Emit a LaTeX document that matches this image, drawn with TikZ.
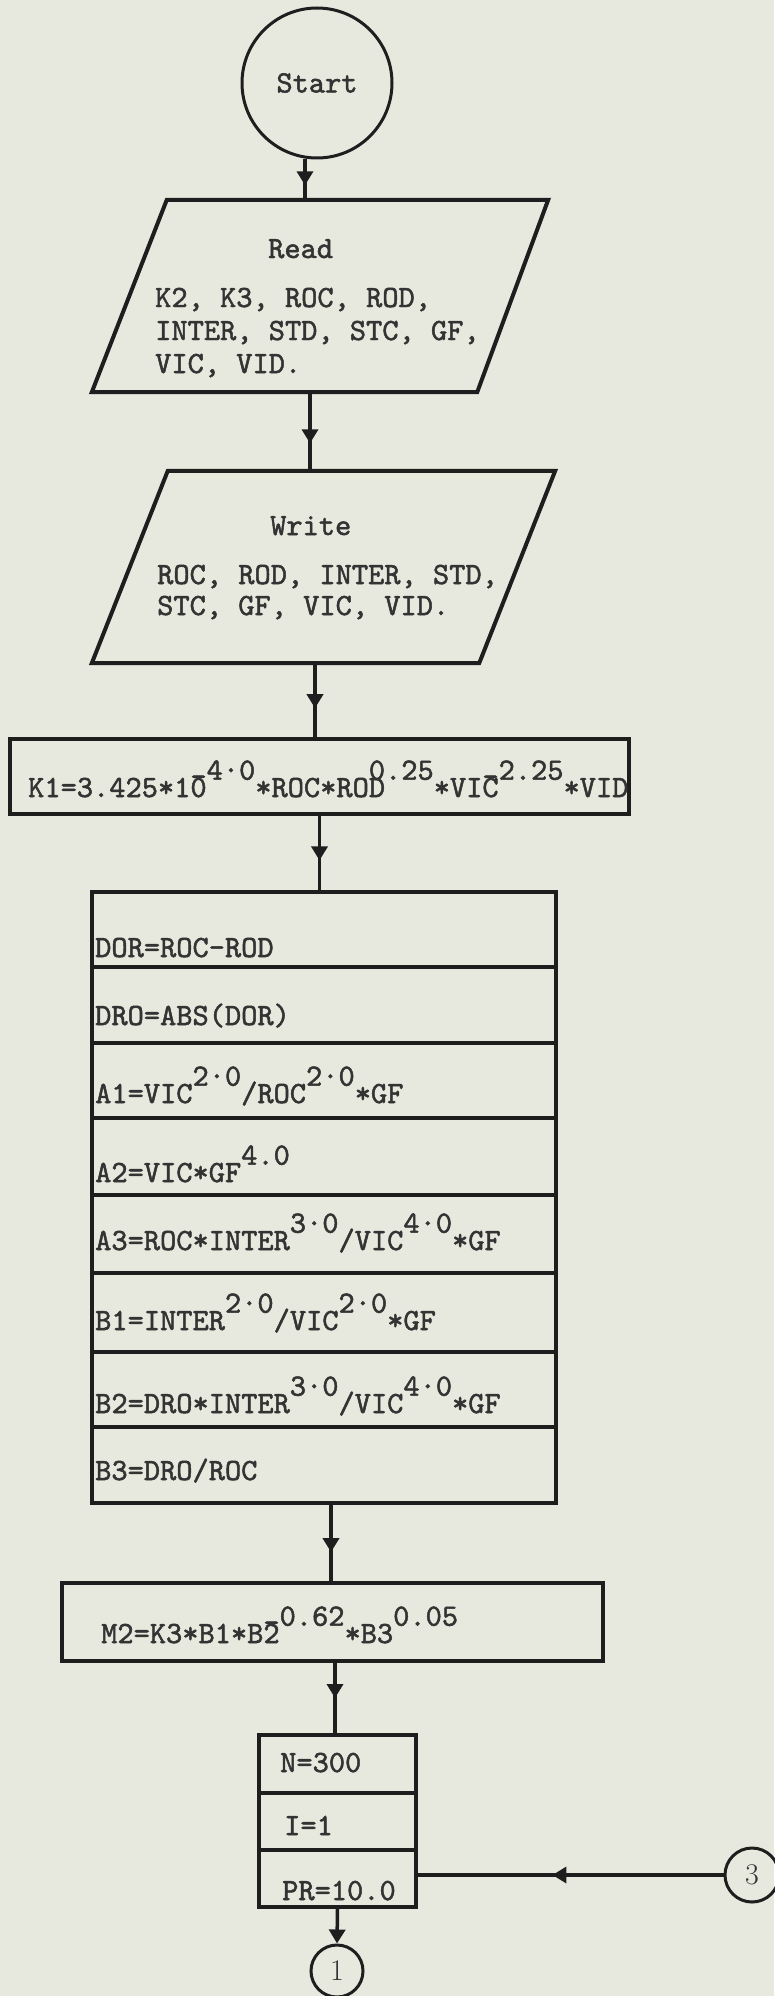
\documentclass[tikz,border=0pt]{standalone}
\usepackage{fontspec}
\usetikzlibrary{arrows.meta,decorations.markings}
\definecolor{paper}{HTML}{E7E9DE}
\definecolor{ink}{HTML}{1E1E1E}
\definecolor{typeink}{HTML}{333333}
% typewriter face used for every statement, slightly inked up
\newfontfamily\typeface{lmmono10-regular}[Extension=.otf, FakeBold=1.6]
\newcommand\typew{\typeface\fontsize{30.9}{33}\selectfont}
% raised exponent, typed on the same line
\newcommand\sus[1]{\raisebox{0.56em}{#1}}
% minus sign struck over the previous character
\newcommand\ovm{\llap{\raisebox{0.35em}{-}}}
% one typewriter backspace
\newcommand\bsp{\kern-0.525em}
\newcommand\pc{\textperiodcentered}
\begin{document}
\begin{tikzpicture}[x=1pt,y=-1pt,
  box/.style={draw=ink, line width=4pt, rectangle, inner sep=0pt},
  ghost/.style={rectangle, inner sep=0pt},
  term/.style={draw=ink, line width=3pt, circle, inner sep=0pt},
  txt/.style={anchor=base west, inner sep=0pt, text=typeink, font=\typew,
    text height=0.62em, text depth=0.12em},
  flow/.style={draw=ink, line width=3.5pt},
  headat/.style={postaction={decorate}, decoration={markings,
      mark=at position #1 with {\arrow{Triangle[width=16pt,length=14pt]}}}},
]
\fill[paper] (0,0) rectangle (774,1996);
\useasboundingbox (0,0) rectangle (774,1996);

% ---- start terminal
\node[term, minimum size=150pt, text=typeink, font=\typew] (start) at (317,83) {Start};

% ---- read input
\node[ghost, minimum width=456pt, minimum height=192pt] (read) at (320,296) {};
\draw[ink, line width=4pt] ([xshift=75pt]read.north west) -- (read.north east)
  -- ([xshift=-71pt]read.south east) -- (read.south west) -- cycle;
\node[txt] (readhd) at (268,258) {Read};
\node[txt] (readl1) at (155,307) {K2, K3, ROC, ROD,};
\node[txt] (readl2) at (155,340) {INTER, STD, STC, GF,};
\node[txt] (readl3) at (155,373) {VIC, VID.};

% ---- write output
\node[ghost, minimum width=463pt, minimum height=192pt] (write) at (323.5,567) {};
\draw[ink, line width=4pt] ([xshift=76pt]write.north west) -- (write.north east)
  -- ([xshift=-76pt]write.south east) -- (write.south west) -- cycle;
\node[txt] (writehd) at (270,535) {Write};
\node[txt] (writel1) at (157,584) {ROC, ROD, INTER, STD,};
\node[txt] (writel2) at (157,615) {STC, GF, VIC, VID.};

% ---- K1
\node[box, minimum width=619pt, minimum height=75pt] (k1) at (319.5,776.5) {};
\node[txt] (k1t) at (28,797) {K1=3.425*10\ovm\sus{4\pc0}*ROC*ROD\bsp\sus{0.25}*VIC\ovm\sus{2.25}*VID};

% ---- block of assignments
\node[box, minimum width=464pt, minimum height=75pt] (r1) at (324,929.5) {};
\node[box, minimum width=464pt, minimum height=76pt] (r2) at (324,1005) {};
\node[box, minimum width=464pt, minimum height=75pt] (r3) at (324,1080.5) {};
\node[box, minimum width=464pt, minimum height=77pt] (r4) at (324,1156.5) {};
\node[box, minimum width=464pt, minimum height=78pt] (r5) at (324,1234) {};
\node[box, minimum width=464pt, minimum height=79pt] (r6) at (324,1312.5) {};
\node[box, minimum width=464pt, minimum height=75pt] (r7) at (324,1389.5) {};
\node[box, minimum width=464pt, minimum height=76pt] (r8) at (324,1465) {};
\node[txt] (t1) at (95,957) {DOR=ROC-ROD};
\node[txt] (t2) at (95,1025) {DRO=ABS(DOR)};
\node[txt] (t3) at (95,1103) {A1=VIC\sus{2\pc0}/ROC\sus{2\pc0}*GF};
\node[txt] (t4) at (95,1182) {A2=VIC*GF\sus{4.0}};
\node[txt] (t5) at (95,1250) {A3=ROC*INTER\sus{3\pc0}/VIC\sus{4\pc0}*GF};
\node[txt] (t6) at (95,1330) {B1=INTER\sus{2\pc0}/VIC\sus{2\pc0}*GF};
\node[txt] (t7) at (95,1413) {B2=DRO*INTER\sus{3\pc0}/VIC\sus{4\pc0}*GF};
\node[txt] (t8) at (95,1480) {B3=DRO/ROC};

% ---- M2
\node[box, minimum width=541pt, minimum height=78pt] (m2) at (332.5,1622) {};
\node[txt] (m2t) at (101,1643) {M2=K3*B1*B2\ovm\sus{0.62}*B3\sus{0.05}};

% ---- initial values
\node[box, minimum width=157pt, minimum height=58pt] (n1) at (337.5,1764) {};
\node[box, minimum width=157pt, minimum height=57pt] (n2) at (337.5,1821.5) {};
\node[box, minimum width=157pt, minimum height=57pt] (n3) at (337.5,1878.5) {};
\node[txt] (nt1) at (280,1772) {N=300};
\node[txt] (nt2) at (284,1835) {I=1};
\node[txt] (nt3) at (282,1900) {PR=10.0};

% ---- connectors
\node[term, minimum size=52pt, text=typeink, font=\rmfamily\fontsize{30}{32}\selectfont] (c1) at (337,1971) {1};
\node[term, minimum size=54pt, text=typeink, font=\rmfamily\fontsize{30}{32}\selectfont] (c3) at (752,1875) {3};

% ---- flow lines
\draw[flow, headat=0.64] ([xshift=-12pt]start.south) -- ([xshift=-12pt]start.south |- read.north);
\draw[flow, headat=0.65] ([xshift=-10pt]read.south) -- ([xshift=-10pt]read.south |- write.north);
\draw[flow, headat=0.61] ([xshift=-8.5pt]write.south) -- ([xshift=-8.5pt]write.south |- k1.north);
\draw[flow, headat=0.6] (k1.south) -- (k1.south |- r1.north);
\draw[flow, headat=0.62] ([xshift=7pt]r8.south) -- ([xshift=7pt]r8.south |- m2.north);
\draw[flow, headat=0.5] ([xshift=2.5pt]m2.south) -- ([xshift=2.5pt]m2.south |- n1.north);
\draw[flow, -{Triangle[width=16pt,length=14pt]}] (n3.south) -- (c1.north);
\draw[flow, headat=0.56] (c3.west) -- (c3.west -| n3.east);
\end{tikzpicture}
\end{document}
